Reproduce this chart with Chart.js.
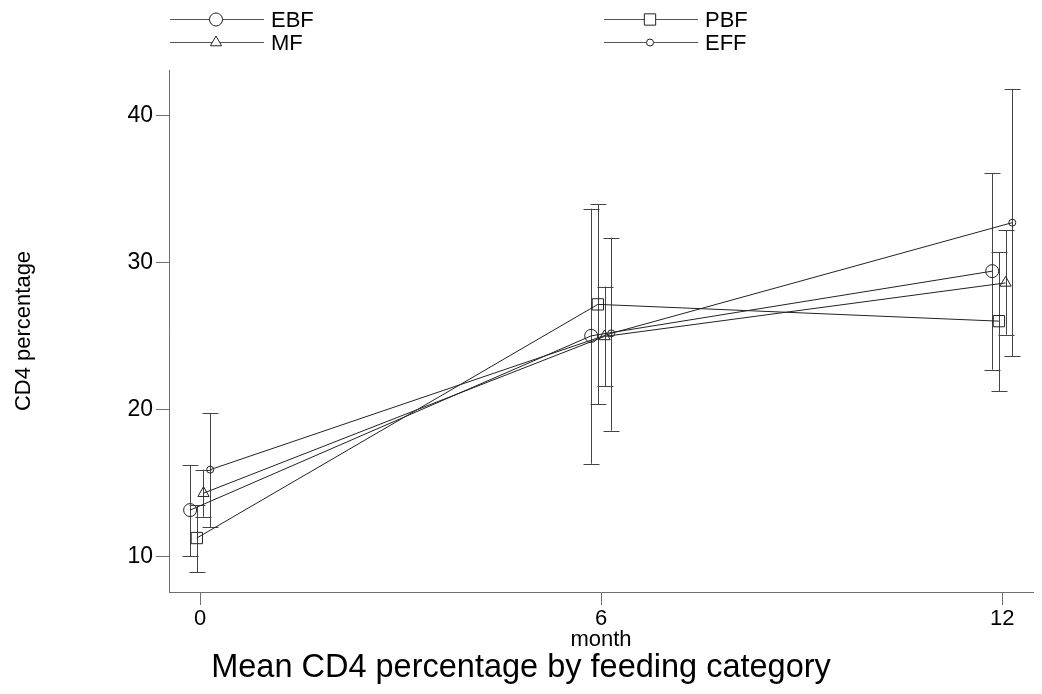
<!DOCTYPE html>
<html lang="en">
<head>
<meta charset="UTF-8">
<title>Mean CD4 percentage by feeding category</title>
<script src="https://cdn.jsdelivr.net/npm/chart.js@4/dist/chart.umd.min.js"></script>
<style>
    html, body { margin: 0; padding: 0; background: #fff; }
    #wrap { width: 1042px; height: 694px; }
</style>
</head>
<body>
<div id="wrap"><canvas id="cd4"></canvas></div>
<script>
// data
const months = [0, 6, 12]
const groups = ['EBF', 'PBF', 'MF', 'EFF']
const dodge = [-0.15, -0.05, 0.05, 0.15]   // small shift so the bars don't overlap

const ebfMean = [13.15, 25.0, 29.4]
const ebfLo   = [10.0, 16.3, 22.7]
const ebfHi   = [16.2, 33.65, 36.05]

const pbfMean = [11.25, 27.14, 26.0]
const pbfLo   = [8.93, 20.34, 21.25]
const pbfHi   = [13.47, 33.97, 30.7]

const mfMean  = [14.3, 24.96, 28.6]
const mfLo    = [12.7, 21.59, 25.08]
const mfHi    = [15.9, 28.35, 32.18]

const effMean = [15.9, 25.17, 32.7]
const effLo   = [12.0, 18.55, 23.63]
const effHi   = [19.73, 31.68, 41.8]

const xTicks = [0, 6, 12]
const yTicks = [10, 20, 30, 40]

const means = [ebfMean, pbfMean, mfMean, effMean]
const lows  = [ebfLo, pbfLo, mfLo, effLo]
const highs = [ebfHi, pbfHi, mfHi, effHi]
const styles = [
    { pointStyle: 'circle',   radius: 6.5 },
    { pointStyle: 'rect',     radius: 8 },
    { pointStyle: 'triangle', radius: 6.5 },
    { pointStyle: 'circle',   radius: 3.5 }
]

const ink = '#222'
const axisGray = '#6e6e6e'
const font = '"Liberation Sans", Arial, Helvetica, sans-serif'

const datasets = groups.map((g, i) => ({
    label: g,
    data: months.map((m, j) => ({ x: m + dodge[i], y: means[i][j], lo: lows[i][j], hi: highs[i][j] })),
    borderColor: ink,
    borderWidth: 1,
    pointStyle: styles[i].pointStyle,
    pointRadius: styles[i].radius,
    pointBorderColor: ink,
    pointBorderWidth: 1,
    pointBackgroundColor: 'rgba(0,0,0,0)',
    tension: 0
}))

// error bars, drawn through the scales
const errorBars = {
    id: 'errorBars',
    beforeDatasetsDraw(chart) {
        const ctx = chart.ctx
        const xs = chart.scales.x, ys = chart.scales.y
        ctx.save()
        ctx.strokeStyle = '#444'
        ctx.lineWidth = 1
        chart.data.datasets.forEach(ds => {
            ds.data.forEach(p => {
                const px = Math.round(xs.getPixelForValue(p.x)) + 0.5
                const top = ys.getPixelForValue(p.hi)
                const bot = ys.getPixelForValue(p.lo)
                ctx.beginPath()
                ctx.moveTo(px, top); ctx.lineTo(px, bot)
                ctx.moveTo(px - 8, Math.round(top) + 0.5); ctx.lineTo(px + 8, Math.round(top) + 0.5)
                ctx.moveTo(px - 8, Math.round(bot) + 0.5); ctx.lineTo(px + 8, Math.round(bot) + 0.5)
                ctx.stroke()
            })
        })
        ctx.restore()
    }
}

// legend at the top, titles round the plot
const decorations = {
    id: 'decorations',
    afterDraw(chart) {
        const ctx = chart.ctx
        const area = chart.chartArea
        ctx.save()
        ctx.fillStyle = '#000'

        // legend: two columns, two rows
        const cols = [170, 604]
        const rows = [19, 42]
        const order = [[0, 0], [1, 0], [0, 1], [1, 1]] // EBF, PBF, MF, EFF
        ctx.font = '22px ' + font
        ctx.textBaseline = 'middle'
        ctx.textAlign = 'left'
        groups.forEach((g, i) => {
            const x0 = cols[order[i][0]], y = rows[order[i][1]] + 0.5
            ctx.strokeStyle = '#555'
            ctx.lineWidth = 1
            ctx.beginPath()
            ctx.moveTo(x0, y); ctx.lineTo(x0 + 94, y)
            ctx.stroke()
            ctx.strokeStyle = ink
            ctx.fillStyle = '#fff'
            Chart.helpers.drawPoint(ctx, { pointStyle: styles[i].pointStyle, radius: styles[i].radius, rotation: 0, borderWidth: 1 }, x0 + 46, y)
            ctx.fillStyle = '#000'
            ctx.fillText(g, x0 + 101, y + 1)
        })

        // x axis title
        ctx.font = '22px ' + font
        ctx.textAlign = 'center'
        ctx.textBaseline = 'alphabetic'
        ctx.fillText('month', (area.left + area.right) / 2, 646)

        // chart title
        ctx.font = '32.5px ' + font
        ctx.fillText('Mean CD4 percentage by feeding category', 521, 677)

        // y axis title
        ctx.font = '22px ' + font
        ctx.translate(24, (area.top + area.bottom) / 2)
        ctx.rotate(-Math.PI / 2)
        ctx.textBaseline = 'middle'
        ctx.fillText('CD4 percentage', 0, 0)
        ctx.restore()
    }
}

new Chart(document.getElementById('cd4'), {
    type: 'line',
    data: { datasets },
    plugins: [errorBars, decorations],
    options: {
        responsive: true,
        maintainAspectRatio: false,
        animation: false,
        layout: { padding: { top: 70, right: 8, left: 0, bottom: 0 } },
        plugins: {
            legend: { display: false },
            title: { display: false },
            tooltip: { enabled: false }
        },
        scales: {
            x: {
                type: 'linear',
                min: -0.466,
                max: 12.46,
                afterBuildTicks: s => { s.ticks = xTicks.map(v => ({ value: v })) },
                afterFit: s => { s.height = 102 },
                grid: { drawOnChartArea: false, tickLength: 13, color: axisGray },
                border: { color: axisGray, width: 1 },
                ticks: { font: { family: font, size: 22 }, color: '#000', padding: 1, maxRotation: 0 }
            },
            y: {
                min: 7.58,
                max: 43.08,
                afterBuildTicks: s => { s.ticks = yTicks.map(v => ({ value: v })) },
                afterFit: s => { s.width = 169 },
                grid: { drawOnChartArea: false, tickLength: 13, color: axisGray },
                border: { color: axisGray, width: 1 },
                ticks: { font: { family: font, size: 23 }, color: '#000', padding: 3 }
            }
        }
    }
})
</script>
</body>
</html>
